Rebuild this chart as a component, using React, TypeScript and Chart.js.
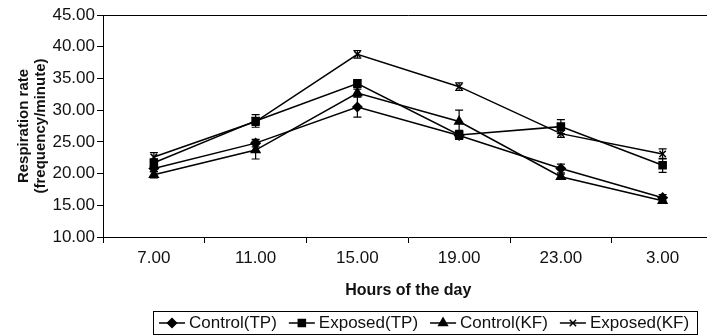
import { useEffect, useRef } from 'react';
import { Chart, registerables } from 'chart.js';
import { drawPoint } from 'chart.js/helpers';

Chart.register(...registerables);

const categories = ['7.00', '11.00', '15.00', '19.00', '23.00', '3.00'];

const controlTP = [20.8, 24.8, 30.5, 26.0, 20.8, 16.2];
const exposedTP = [21.7, 28.3, 34.2, 26.1, 27.4, 21.3];
const controlKF = [19.8, 23.7, 32.7, 28.2, 19.5, 15.7];
const exposedKF = [22.6, 28.2, 38.8, 33.7, 26.3, 23.1];

const controlTPErr = [0.5, 0.6, 1.6, 0.5, 0.7, 0.5];
const exposedTPErr = [0.6, 1.0, 0.6, 0.7, 1.1, 1.1];
const controlKFErr = [0.5, 1.4, 0.6, 1.8, 0.4, 0.4];
const exposedKFErr = [0.7, 0.6, 0.6, 0.6, 0.6, 0.8];

const seriesLabels = ['Control(TP)', 'Exposed(TP)', 'Control(KF)', 'Exposed(KF)'];

const FONT = '"Liberation Sans", Arial, Helvetica, sans-serif';

const errorBarPlugin = {
  id: 'errorBars',
  afterDatasetsDraw(chart: any) {
    const ctx = chart.ctx;
    const yScale = chart.scales.y;
    ctx.save();
    ctx.strokeStyle = '#000';
    ctx.lineWidth = 1.2;
    chart.data.datasets.forEach((ds: any, i: number) => {
      const meta = chart.getDatasetMeta(i);
      meta.data.forEach((pt: any, j: number) => {
        const v = ds.data[j];
        const e = ds.errors[j];
        const y1 = yScale.getPixelForValue(v + e);
        const y2 = yScale.getPixelForValue(v - e);
        const x = pt.x;
        ctx.beginPath();
        ctx.moveTo(x, y1);
        ctx.lineTo(x, y2);
        ctx.moveTo(x - 4, y1);
        ctx.lineTo(x + 4, y1);
        ctx.moveTo(x - 4, y2);
        ctx.lineTo(x + 4, y2);
        ctx.stroke();
      });
    });
    ctx.restore();
  },
};

const framePlugin = {
  id: 'frame',
  afterDraw(chart: any) {
    const { ctx, chartArea } = chart;
    ctx.save();
    ctx.strokeStyle = '#000';
    ctx.lineWidth = 1;
    ctx.beginPath();
    ctx.moveTo(chartArea.left, Math.round(chartArea.top) + 0.5);
    ctx.lineTo(chartArea.right, Math.round(chartArea.top) + 0.5);
    ctx.lineTo(chartArea.right, chartArea.bottom);
    ctx.stroke();
    ctx.restore();
  },
};

const legendPlugin = {
  id: 'boxLegend',
  afterDraw(chart: any) {
    const ctx = chart.ctx;
    ctx.save();
    ctx.font = `17px ${FONT}`;
    const boxL = 153, boxT = 311, boxR = 697, boxB = 334;
    ctx.strokeStyle = '#000';
    ctx.lineWidth = 1;
    ctx.strokeRect(boxL + 0.5, boxT + 0.5, boxR - boxL, boxB - boxT);
    const cy = (boxT + boxB) / 2 + 0.5;
    let x = boxL + 6;
    chart.data.datasets.forEach((ds: any) => {
      ctx.strokeStyle = '#000';
      ctx.fillStyle = '#000';
      ctx.lineWidth = 1.5;
      ctx.beginPath();
      ctx.moveTo(x, cy);
      ctx.lineTo(x + 26, cy);
      ctx.stroke();
      drawPoint(ctx, { pointStyle: ds.pointStyle, radius: ds.pointRadius, borderWidth: 1.5, rotation: 0 } as any, x + 13, cy);
      x += 30;
      ctx.fillStyle = '#111';
      ctx.textBaseline = 'middle';
      ctx.textAlign = 'left';
      ctx.fillText(ds.label, x, cy);
      x += ctx.measureText(ds.label).width + 12;
    });
    ctx.restore();
  },
};

export default function App() {
  const ref = useRef<HTMLCanvasElement>(null);
  useEffect(() => {
    document.body.style.overflow = 'hidden';
    const mk = (label: string, data: number[], errors: number[], pointStyle: string, radius: number) => ({
      label,
      data,
      errors,
      borderColor: '#000',
      backgroundColor: '#000',
      borderWidth: 1.5,
      pointStyle,
      pointRadius: radius,
      pointBorderWidth: 1.5,
      pointBackgroundColor: '#000',
      pointBorderColor: '#000',
      tension: 0,
      fill: false,
    });
    const chart = new Chart(ref.current as HTMLCanvasElement, {
      type: 'line',
      data: {
        labels: categories,
        datasets: [
          mk(seriesLabels[0], controlTP, controlTPErr, 'rectRot', 4.5),
          mk(seriesLabels[1], exposedTP, exposedTPErr, 'rect', 5),
          mk(seriesLabels[2], controlKF, controlKFErr, 'triangle', 5),
          mk(seriesLabels[3], exposedKF, exposedKFErr, 'crossRot', 4.5),
        ] as any,
      },
      options: {
        responsive: false,
        devicePixelRatio: 1,
        animation: false,
        layout: { padding: { top: 15, right: 5, left: 0, bottom: 0 } },
        plugins: {
          legend: { display: false },
          tooltip: { enabled: false },
        },
        scales: {
          x: {
            type: 'category',
            offset: true,
            afterFit: (s: any) => { s.height = 98; },
            grid: { offset: true, drawOnChartArea: false, drawTicks: true, tickLength: 6, color: '#000' },
            border: { display: true, color: '#000', width: 1 },
            ticks: { color: '#111', font: { family: FONT, size: 17 }, padding: 5, maxRotation: 0 },
            title: {
              display: true,
              text: 'Hours of the day',
              color: '#111',
              font: { family: FONT, size: 16, weight: 'bold', lineHeight: 1.2 },
              padding: { top: 4, bottom: 35 },
            },
          },
          y: {
            min: 10,
            max: 45,
            afterFit: (s: any) => { s.width = 103; },
            grid: { drawOnChartArea: false, drawTicks: true, tickLength: 6, color: '#000' },
            border: { display: true, color: '#000', width: 1 },
            ticks: {
              stepSize: 5,
              color: '#111',
              font: { family: FONT, size: 17 },
              padding: 2,
              callback: (v: any) => Number(v).toFixed(2),
            },
            title: {
              display: true,
              text: ['Respiration rate', '(frequency/minute)'],
              color: '#111',
              font: { family: FONT, size: 15, weight: 'bold', lineHeight: 1.1 },
              padding: { top: 16, bottom: 0 },
            },
          },
        },
      } as any,
      plugins: [errorBarPlugin, framePlugin, legendPlugin],
    });
    return () => chart.destroy();
  }, []);
  return (
    <div style={{ position: 'fixed', left: 0, top: 0, width: 707, height: 335, overflow: 'hidden', background: '#fff' }}>
      <canvas ref={ref} width={720} height={335} style={{ width: 720, height: 335, display: 'block' }} />
    </div>
  );
}
